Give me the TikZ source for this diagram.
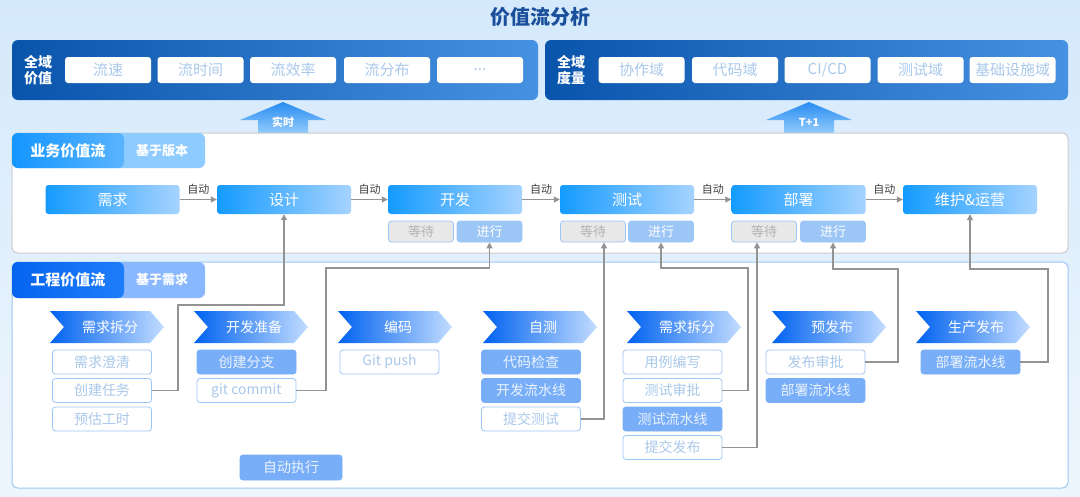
\documentclass[tikz,border=0pt]{standalone}
\usepackage{fontspec}
\setmainfont{Noto Sans CJK SC}
\usetikzlibrary{arrows.meta}
\definecolor{dk}{HTML}{1A4F9C}
\definecolor{lt}{HTML}{A9C8EA}
\definecolor{fl}{HTML}{78AEF8}
\definecolor{bd}{HTML}{9CC6F5}
\definecolor{stA}{HTML}{149BFF}
\definecolor{stB}{HTML}{A6D3FF}
\definecolor{chA}{HTML}{0062F0}
\definecolor{chB}{HTML}{C2DCFF}
\definecolor{bgA}{HTML}{D4E9FB}
\definecolor{bgB}{HTML}{EEF6FD}
\definecolor{pA}{HTML}{0A55AC}
\definecolor{pB}{HTML}{4691E1}
\definecolor{arA}{HTML}{288CF0}
\definecolor{arB}{HTML}{96CDFF}
\definecolor{tab1}{HTML}{8ECBFF}
\definecolor{tab1A}{HTML}{1496FF}
\definecolor{tab1B}{HTML}{5AB4FF}
\definecolor{tab2}{HTML}{8AB8FF}
\definecolor{tab2A}{HTML}{0564F0}
\definecolor{tab2B}{HTML}{1E7DFA}
\tikzset{
 wb/.style={draw=bd,line width=0.8pt,fill=white,rounded corners=3pt,minimum width=99pt,minimum height=24pt,inner sep=0pt,text=lt,font=\fontsize{14}{14}\selectfont},
 fb/.style={wb,fill=fl,draw=fl,text=white!85!fl},
 tb/.style={fill=white,rounded corners=3pt,minimum width=86pt,minimum height=26pt,inner sep=0pt,text=lt,font=\fontsize{15}{15}\selectfont},
 st/.style={rounded corners=3pt,left color=stA,right color=stB,minimum width=134pt,minimum height=29pt,inner sep=0pt,text=white,font=\fontsize{15}{15}\selectfont},
 sb/.style={rounded corners=3pt,draw=bd,line width=0.8pt,minimum width=65pt,minimum height=21pt,inner sep=0pt,font=\fontsize{13}{13}\selectfont},
 conn/.style={draw=gray!85,line width=1.2pt,-{Triangle[length=6pt,width=6pt]}},
 lab/.style={font=\fontsize{11}{11}\selectfont,text=black!75},
 chev/.style={left color=chA,right color=chB,draw=none},
 cht/.style={text=white,font=\fontsize{14}{14}\selectfont},
}
\begin{document}
\begin{tikzpicture}[x=1pt,y=-1pt]
\useasboundingbox (0,0) rectangle (1080,496);
\shade[top color=bgA,bottom color=bgB] (0,0) rectangle (1080,496);
\node[text=dk,font=\bfseries\fontsize{20}{20}\selectfont] (title) at (540,17) {价值流分析};
% top panels
\shade[rounded corners=6pt,left color=pA,right color=pB] (12,40) rectangle (538,100);
\shade[rounded corners=6pt,left color=pA,right color=pB] (545,40) rectangle (1068,100);
\node[text=white,font=\bfseries\fontsize{14}{16}\selectfont,align=center] (qa) at (38,70) {全域\\价值};
\node[text=white,font=\bfseries\fontsize{14}{16}\selectfont,align=center] (qb) at (571,70) {全域\\度量};
\node[tb] (t1) at (108,70) {流速};
\node[tb] (t2) at (200.5,70) {流时间};
\node[tb] (t3) at (293,70) {流效率};
\node[tb] (t4) at (387,70) {流分布};
\node[tb] (t5) at (480,70) {...};
\node[tb] (u1) at (641.5,70) {协作域};
\node[tb] (u2) at (735,70) {代码域};
\node[tb] (u3) at (827.5,70) {CI/CD};
\node[tb] (u4) at (920.5,70) {测试域};
\node[tb] (u5) at (1012.5,70) {基础设施域};
% up arrows
\foreach \c/\t/\n in {283/实时/ua,809/T+1/ub}{
 \shade[top color=arA,bottom color=arB] (\c-43,120) -- (\c,102) -- (\c+43,120) -- (\c+25,120) -- (\c+25,134) -- (\c-25,134) -- (\c-25,120) -- cycle;
 \node[text=white,font=\bfseries\fontsize{11}{11}\selectfont] (\n) at (\c,122) {\t};
}
% business panel
\draw[fill=white,draw=gray!40,line width=1pt,rounded corners=6pt] (12,133) rectangle (1068,253);
\fill[tab1,rounded corners=6pt] (12,133) -- (205,133) -- (205,168) -- (12,168) -- cycle;
\shade[left color=tab1A,right color=tab1B,rounded corners=6pt] (12,168) -- (12,133) -- (124,133) -- (124,168) -- cycle;
\node[text=white,font=\bfseries\fontsize{15}{15}\selectfont] (bt) at (68,151) {业务价值流};
\node[text=white,font=\bfseries\fontsize{13}{13}\selectfont] (bv) at (162,151) {基于版本};
\node[st] (s1) at (112.5,199.5) {需求};
\node[st] (s2) at (284,199.5) {设计};
\node[st] (s3) at (455,199.5) {开发};
\node[st] (s4) at (627,199.5) {测试};
\node[st] (s5) at (798.5,199.5) {部署};
\node[st] (s6) at (970,199.5) {维护\&运营};
\foreach \a/\b in {s1/s2,s2/s3,s3/s4,s4/s5,s5/s6}{
 \draw[conn,line width=1pt] (\a.east) -- node[lab,above=1pt]{自动} (\b.west);
}
\node[sb,fill=gray!18,text=gray!60] (w1) at (421,231.5) {等待};
\node[sb,fill=bd,text=white] (j1) at (489.5,231.5) {进行};
\node[sb,fill=gray!18,text=gray!60] (w2) at (593,231.5) {等待};
\node[sb,fill=bd,text=white] (j2) at (661,231.5) {进行};
\node[sb,fill=gray!18,text=gray!60] (w3) at (764,231.5) {等待};
\node[sb,fill=bd,text=white] (j3) at (833,231.5) {进行};
% engineering panel
\draw[fill=white,draw=bd,line width=1pt,rounded corners=6pt] (12,262) rectangle (1068,488);
\fill[tab2,rounded corners=6pt] (12,262) -- (205,262) -- (205,298) -- (12,298) -- cycle;
\shade[left color=tab2A,right color=tab2B,rounded corners=6pt] (12,298) -- (12,262) -- (124,262) -- (124,298) -- cycle;
\node[text=white,font=\bfseries\fontsize{15}{15}\selectfont] (et) at (68,280) {工程价值流};
\node[text=white,font=\bfseries\fontsize{13}{13}\selectfont] (ev) at (162,280) {基于需求};
\foreach \xx/\t/\i in {50/需求拆分/0,194/开发准备/1,338/编码/2,483/自测/3,627/需求拆分/4,772/预发布/5,916/生产发布/6}{
 \shade[chev] (\xx,311) -- (\xx+100,311) -- (\xx+114,327) -- (\xx+100,343) -- (\xx,343) -- (\xx+14,327) -- cycle;
 \node[cht] (c\i) at (\xx+60,327) {\t};
}
% sub boxes
\node[wb] (a1) at (102,362) {需求澄清};
\node[wb] (a2) at (102,390.5) {创建任务};
\node[wb] (a3) at (102,419) {预估工时};
\node[fb] (b1) at (246.5,362) {创建分支};
\node[wb] (b2) at (246.5,390.5) {git commit};
\node[wb] (d1) at (389.5,362) {Git push};
\node[fb] (e1) at (531,362) {代码检查};
\node[fb] (e2) at (531,390.5) {开发流水线};
\node[wb] (e3) at (531,419) {提交测试};
\node[wb] (f1) at (672.5,362) {用例编写};
\node[wb] (f2) at (672.5,390.5) {测试审批};
\node[fb] (f3) at (672.5,419) {测试流水线};
\node[wb] (f4) at (672.5,447.5) {提交发布};
\node[wb] (g1) at (815.5,362) {发布审批};
\node[fb] (g2) at (815.5,390.5) {部署流水线};
\node[fb] (h1) at (970.5,362) {部署流水线};
\node[fb,minimum width=102pt,minimum height=25pt] (auto) at (291,467.5) {自动执行};
% connectors
\draw[conn] (a2.east) -| (178,305) -| (s2.south);
\draw[conn] (b2.east) -| (326,268) -| (j1.south);
\draw[conn] (e3.east) -| ([xshift=11]w2.south);
\draw[conn] (f2.east) -| (748,268) -| (j2.south);
\draw[conn] (f4.east) -| ([xshift=-7]w3.south);
\draw[conn] (g1.east) -| (898,269) -| (j3.south);
\draw[conn] (h1.east) -| (1048,269) -| (s6.south);
\end{tikzpicture}
\end{document}
